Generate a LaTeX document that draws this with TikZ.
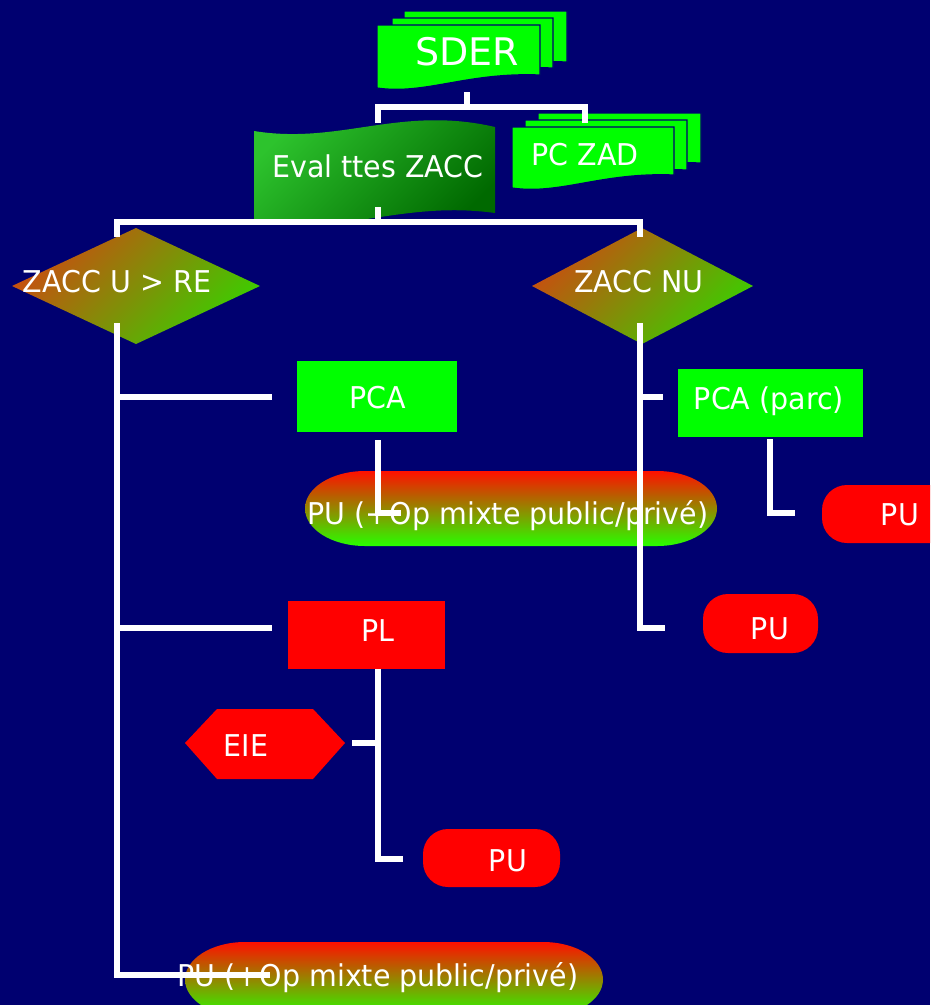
\documentclass[tikz,border=0pt]{standalone}
\usepackage{fontspec}
\setmainfont{DejaVu Sans}[FakeStretch=0.95]
\newfontfamily\sderfont{DejaVu Sans}
\definecolor{bg}{RGB}{0,0,112}
\definecolor{lime}{RGB}{0,255,0}
\definecolor{rred}{RGB}{255,0,0}
\definecolor{dorange}{RGB}{200,78,16}
\definecolor{dgreen}{RGB}{60,205,0}
\definecolor{ptop}{RGB}{255,16,0}
\definecolor{pmid}{RGB}{205,150,0}
\definecolor{pbot}{RGB}{40,255,0}
\definecolor{evtop}{RGB}{45,195,45}
\definecolor{evbot}{RGB}{0,105,0}
\newcommand\docpage[4]{%
  \filldraw[lime,draw=bg,line width=1.2pt] (#1,#2) -- (#3,#2) -- (#3,{#4-13})
    .. controls ({#1+0.55*(#3-#1)},{#4-16}) and ({#1+0.3*(#3-#1)},{#4+7}) .. (#1,#4) -- cycle;}
\tikzset{
  wire/.style={white,line width=5.5pt},
  lbl/.style={text=white,font=\fontsize{30}{36}\selectfont,anchor=base,inner sep=0pt},
  redfill/.style={fill=rred},
  pillshade/.style={top color=ptop,middle color=pmid,bottom color=pbot},
  diashade/.style={top color=dorange,bottom color=dgreen,shading angle=45},
}
\begin{document}
\begin{tikzpicture}[x=1pt,y=-1pt]
\useasboundingbox (0,0) rectangle (930,1005);
\fill[bg] (0,0) rectangle (930,1005);
\clip (0,0) rectangle (930,1005);

% SDER stack
\docpage{404}{11}{567}{75}
\docpage{392}{18}{553}{81}
\docpage{377}{25}{540}{88}
\node[lbl,font=\sderfont\fontsize{38}{44}\selectfont] (sder) at (467,65) {SDER};

% PC ZAD stack
\docpage{538}{113}{701}{176}
\docpage{525}{120}{687}{183}
\docpage{512}{127}{674}{188}
\node[lbl] (pczad) at (585,165) {PC ZAD};

% Eval ttes ZACC (punched tape)
\shade[top color=evtop,bottom color=evbot,shading angle=45]
  (254,131) .. controls (340,145) and (400,105) .. (495,127) -- (495,213)
  .. controls (400,200) and (340,238) .. (254,220) -- cycle;
\node[lbl] (eval) at (378,177) {Eval ttes ZACC};

% diamonds
\shade[diashade] (12,286) -- (136,228) -- (260,286) -- (136,344) -- cycle;
\node[lbl] (zu) at (117,292) {ZACC U > RE};
\shade[diashade] (532,286) -- (642,228) -- (753,286) -- (642,344) -- cycle;
\node[lbl] (znu) at (639,292) {ZACC NU};

% rectangles
\fill[lime] (297,361) rectangle (457,432);
\node[lbl] (pca) at (378,408) {PCA};
\fill[lime] (678,369) rectangle (863,437);
\node[lbl] (pcap) at (769,409) {PCA (parc)};
\fill[rred] (288,601) rectangle (445,669);
\node[lbl] (pl) at (378,641) {PL};

% gradient pills
\shade[pillshade] (365,471) -- (657,471) arc[start angle=-90,end angle=90,x radius=60,y radius=37.5]
  -- (365,546) arc[start angle=90,end angle=270,x radius=60,y radius=37.5] -- cycle;
\shade[pillshade] (245,942) -- (543,942) arc[start angle=-90,end angle=90,x radius=60,y radius=37.5]
  -- (245,1017) arc[start angle=90,end angle=270,x radius=60,y radius=37.5] -- cycle;

% red pills
\fill[rred,rounded corners=25pt] (822,485) rectangle (990,543);
\fill[rred,rounded corners=25pt] (703,594) rectangle (818,653);
\fill[rred,rounded corners=25pt] (423,829) rectangle (560,887);

% EIE hexagon
\fill[rred] (185,743) -- (217,709) -- (313,709) -- (345,743) -- (313,779) -- (217,779) -- cycle;

% coordinates for connectors
\coordinate (sderB) at (467,92);
\coordinate (j1) at (467,107);
\coordinate (evalT) at (378,123);
\coordinate (pczT) at (585,123);
\coordinate (evalB) at (378,207);
\coordinate (j2) at (378,222);
\coordinate (zuT) at (117,237);
\coordinate (znuT) at (640,237);
\coordinate (zuB) at (117,323);
\coordinate (znuB) at (640,323);
\coordinate (pcaL) at (272,397);
\coordinate (plL) at (272,628);
\coordinate (bpL) at (270,975);
\coordinate (pcapL) at (663,397);
\coordinate (pumL) at (665,628);
\coordinate (pcaB) at (378,440);
\coordinate (p1) at (401,513);
\coordinate (pcapB) at (770,439);
\coordinate (purL) at (795,513);
\coordinate (plB) at (378,669);
\coordinate (eieR) at (352,743);
\coordinate (pulL) at (403,859);

% connectors
\draw[wire] (sderB) -- (j1);
\draw[wire] (evalT) |- (j1) -| (pczT);
\draw[wire] (evalB) -- (j2);
\draw[wire] (zuT) |- (j2) -| (znuT);
\draw[wire] (zuB) |- (bpL);
\draw[wire] (zuB |- pcaL) -- (pcaL);
\draw[wire] (zuB |- plL) -- (plL);
\draw[wire] (znuB) |- (pumL);
\draw[wire] (znuB |- pcapL) -- (pcapL);
\draw[wire] (pcaB) |- (p1);
\draw[wire] (pcapB) |- (purL);
\draw[wire] (plB) |- (pulL);
\draw[wire] (eieR) -- (plB |- eieR);

% labels on top
\node[lbl] (pu1) at (508,524) {PU (+Op mixte public/privé)};
\node[lbl] (pu2) at (378,986) {PU (+Op mixte public/privé)};
\node[lbl] (pur) at (900,525) {PU};
\node[lbl] (pum) at (770,639) {PU};
\node[lbl] (eie) at (246,756) {EIE};
\node[lbl] (pul) at (508,871) {PU};
\end{tikzpicture}
\end{document}
